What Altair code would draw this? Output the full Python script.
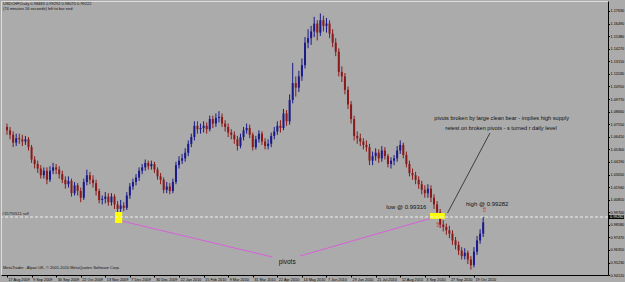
import altair as alt
import pandas as pd

# ---------------- data ----------------
x_labels = ["17 Aug 2009", "9 Sep 2009", "30 Sep 2009", "22 Oct 2009", "13 Nov 2009",
            "7 Dec 2009", "30 Dec 2009", "22 Jan 2010", "15 Feb 2010", "9 Mar 2010",
            "31 Mar 2010", "22 Apr 2010", "14 May 2010", "7 Jun 2010", "29 Jun 2010",
            "21 Jul 2010", "12 Aug 2010", "3 Sep 2010", "27 Sep 2010", "19 Oct 2010"]

y_ticks = [0.94120, 0.95230, 0.96350, 0.97470, 0.98580, 0.99700, 1.00810, 1.01940,
           1.03050, 1.04190, 1.05300, 1.06410, 1.07550, 1.08660, 1.09770, 1.10910,
           1.12030, 1.13150, 1.14270, 1.15380, 1.16490, 1.17630]

opens = [1.073,1.070,1.066,1.059,1.063,1.062,1.060,1.062,1.055,1.044,
         1.040,1.036,1.030,1.034,1.026,1.034,1.037,1.035,1.031,1.026,
         1.022,1.025,1.014,1.021,1.016,1.010,1.024,1.030,1.026,1.023,
         1.016,1.008,1.009,1.011,1.006,1.011,1.004,1.000,1.003,1.001,
         1.012,1.020,1.024,1.028,1.034,1.037,1.041,1.038,1.040,1.035,
         1.029,1.026,1.017,1.020,1.016,1.024,1.039,1.043,1.045,1.050,
         1.058,1.064,1.074,1.071,1.072,1.074,1.071,1.080,1.076,1.081,
         1.082,1.076,1.073,1.068,1.066,1.062,1.056,1.064,1.070,1.072,
         1.066,1.055,1.062,1.067,1.060,1.056,1.058,1.065,1.069,1.074,
         1.072,1.085,1.078,1.097,1.112,1.108,1.118,1.128,1.148,1.152,
         1.158,1.165,1.157,1.168,1.163,1.165,1.156,1.148,1.140,1.122,
         1.118,1.106,1.093,1.080,1.065,1.063,1.060,1.057,1.055,1.043,
         1.047,1.050,1.045,1.052,1.047,1.040,1.043,1.045,1.052,1.057,
         1.048,1.040,1.032,1.030,1.026,1.022,1.017,1.014,1.018,1.010,
         1.004,0.997,0.986,0.984,0.981,0.978,0.972,0.968,0.963,0.958,
         0.961,0.955,0.950,0.962,0.972,0.978]

closes = [1.070,1.066,1.059,1.063,1.062,1.060,1.062,1.055,1.044,1.040,
          1.036,1.030,1.034,1.026,1.034,1.037,1.035,1.031,1.026,1.022,
          1.025,1.014,1.021,1.016,1.010,1.024,1.030,1.026,1.023,1.016,
          1.008,1.009,1.011,1.006,1.011,1.004,1.000,1.003,1.001,1.012,
          1.020,1.024,1.028,1.034,1.037,1.041,1.038,1.040,1.035,1.029,
          1.026,1.017,1.020,1.016,1.024,1.039,1.043,1.045,1.050,1.058,
          1.064,1.074,1.071,1.072,1.074,1.071,1.080,1.076,1.081,1.082,
          1.076,1.073,1.068,1.066,1.062,1.056,1.064,1.070,1.072,1.066,
          1.055,1.062,1.067,1.060,1.056,1.058,1.065,1.069,1.074,1.072,
          1.085,1.078,1.097,1.112,1.108,1.118,1.128,1.148,1.152,1.158,
          1.165,1.157,1.168,1.163,1.165,1.156,1.148,1.140,1.122,1.118,
          1.106,1.093,1.080,1.065,1.063,1.060,1.057,1.055,1.043,1.047,
          1.050,1.045,1.052,1.047,1.040,1.043,1.045,1.052,1.057,1.048,
          1.040,1.032,1.030,1.026,1.022,1.017,1.014,1.018,1.010,1.004,
          0.997,0.986,0.984,0.981,0.978,0.972,0.968,0.963,0.958,0.961,
          0.955,0.950,0.962,0.972,0.978,0.988]

highs = [1.076,1.073,1.069,1.067,1.067,1.066,1.065,1.064,1.057,1.047,
         1.043,1.039,1.037,1.037,1.038,1.041,1.040,1.038,1.034,1.029,
         1.029,1.027,1.024,1.023,1.019,1.027,1.035,1.033,1.030,1.026,
         1.018,1.012,1.015,1.014,1.014,1.013,1.007,1.008,1.006,1.015,
         1.023,1.027,1.031,1.037,1.040,1.044,1.043,1.043,1.042,1.037,
         1.032,1.028,1.024,1.023,1.027,1.042,1.047,1.049,1.054,1.061,
         1.067,1.078,1.078,1.076,1.078,1.077,1.083,1.083,1.085,1.087,
         1.085,1.079,1.076,1.071,1.069,1.065,1.067,1.073,1.076,1.075,
         1.068,1.065,1.070,1.069,1.063,1.062,1.068,1.073,1.078,1.079,
         1.089,1.088,1.102,1.130,1.118,1.123,1.134,1.153,1.160,1.163,
         1.171,1.168,1.174,1.172,1.170,1.168,1.160,1.152,1.143,1.127,
         1.121,1.109,1.096,1.083,1.069,1.067,1.063,1.061,1.058,1.051,
         1.054,1.053,1.056,1.055,1.049,1.046,1.048,1.056,1.061,1.059,
         1.051,1.043,1.036,1.033,1.029,1.025,1.021,1.022,1.021,1.013,
         1.007,1.000,0.990,0.987,0.985,0.981,0.975,0.971,0.966,0.965,
         0.963,0.958,0.966,0.976,0.982,0.9928]

lows = [1.066,1.062,1.055,1.056,1.058,1.056,1.057,1.052,1.041,1.036,
        1.032,1.027,1.027,1.022,1.024,1.031,1.031,1.027,1.023,1.018,
        1.019,1.011,1.012,1.012,1.006,1.008,1.021,1.022,1.019,1.012,
        1.005,1.004,1.005,1.003,1.003,1.000,0.992,0.995,0.998,0.999,
        1.009,1.017,1.021,1.025,1.031,1.034,1.035,1.035,1.032,1.026,
        1.022,1.014,1.014,1.013,1.014,1.022,1.036,1.040,1.042,1.047,
        1.055,1.061,1.067,1.067,1.068,1.067,1.069,1.072,1.073,1.077,
        1.073,1.069,1.064,1.062,1.058,1.052,1.054,1.061,1.067,1.063,
        1.052,1.053,1.059,1.057,1.053,1.053,1.055,1.062,1.066,1.068,
        1.070,1.074,1.075,1.094,1.100,1.104,1.114,1.125,1.143,1.146,
        1.153,1.150,1.154,1.158,1.157,1.152,1.144,1.136,1.118,1.113,
        1.102,1.089,1.076,1.061,1.058,1.056,1.053,1.051,1.039,1.039,
        1.043,1.041,1.042,1.044,1.037,1.036,1.039,1.042,1.049,1.045,
        1.037,1.029,1.026,1.022,1.018,1.013,1.010,1.010,1.006,1.000,
        0.9932,0.983,0.980,0.977,0.974,0.968,0.964,0.959,0.955,0.955,
        0.951,0.946,0.948,0.959,0.969,0.975]

order_price = 0.99282

# annotation anchors (candle index, price)
pivot_boxes = pd.DataFrame({"x": [35.2, 137.7], "x2": [37.5, 142.5],
                            "y": [0.9875, 0.9912], "y2": [0.9973, 0.9964]})
pivot_lines = pd.DataFrame({"x": [37.3, 95.4], "x2": [86.4, 138.3],
                            "y": [0.9893, 0.9581], "y2": [0.9572, 0.9919]})
pointer = pd.DataFrame({"x": [157.2], "x2": [143.4], "y": [1.0676], "y2": [0.9964]})
arrows = pd.DataFrame({"x": [140.3, 155.4], "y": [0.9860, 0.9994]})
notes = pd.DataFrame({
    "x": [161.0, 160.8, 130.0, 156.3, 91.2],
    "y": [1.0809, 1.0720, 1.0017, 1.0044, 0.9528],
    "t": ["pivots broken by large clean bear - implies high supply",
          "retest on broken pivots - s turned r daily level",
          "low @ 0.99316", "high @ 0.99282", "pivots"],
    "s": [5.6, 5.6, 6.0, 6.0, 6.5]})

header_lines = ["USDCHF,Daily  0.98483 0.99292 0.98070 0.99222",
                "(74 minutes 16 seconds) left to bar end"]
footer_line = "MetaTrader - Alpari UK, \u00a9 2001-2010 MetaQuotes Software Corp."

# ---------------- chart ----------------
n = len(closes)
df = pd.DataFrame({"i": list(range(n)), "open": opens, "high": highs,
                   "low": lows, "close": closes})
df["dir"] = ["up" if c >= o else "down" for o, c in zip(opens, closes)]

BG = "#ababab"
FONT = "Liberation Sans"
W, H = 607, 274
xs = alt.Scale(domain=[-0.32, 194.0], nice=False, zero=False)
ys = alt.Scale(domain=[0.9412, 1.1851], nice=False, zero=False)
col = alt.Color("dir:N", scale=alt.Scale(domain=["up", "down"],
                                         range=["#1a1a8a", "#8a1a1a"]), legend=None)

label_expr = "[" + ",".join("'%s'" % s for s in x_labels) + "][round(datum.value/8)]"

x_axis = alt.Axis(values=[8 * k for k in range(len(x_labels))], labelExpr=label_expr,
                  labelAlign="left", labelAngle=0, labelFontSize=3.8, labelPadding=0.5,
                  labelOffset=1, labelFlush=False, labelOverlap=False, tickSize=2,
                  tickColor="black", domainColor="black", labelColor="black",
                  labelFont=FONT, grid=False, title=None)
y_axis = alt.Axis(orient="right", values=y_ticks, format=".5f", labelFontSize=3.8,
                  labelPadding=0.5, tickSize=1.5, tickColor="black", domainColor="black",
                  labelColor="black", labelFont=FONT, labelOverlap=False,
                  labelFlush=False, grid=False, title=None)


def X(f):
    return alt.X(f, type="quantitative", scale=xs, axis=x_axis)


def Y(f):
    return alt.Y(f, type="quantitative", scale=ys, axis=y_axis)


base = alt.Chart(df)
wicks = base.mark_rule(strokeWidth=1).encode(x=X("i"), y=Y("low"), y2="high", color=col)
bodies = base.mark_bar(size=2).encode(x=X("i"), y=Y("open"), y2="close", color=col)

hline = alt.Chart(pd.DataFrame({"p": [order_price]})).mark_rule(
    color="#eeeeee", strokeDash=[3, 2], strokeWidth=1).encode(y=Y("p"))
hlabel = alt.Chart(pd.DataFrame({"p": [order_price], "t": ["#35792611 sell"]})).mark_text(
    align="left", baseline="bottom", fontSize=4, font=FONT, color="#222222", dy=-1).encode(
    x=alt.value(1), y=Y("p"), text="t:N")

price_box = alt.Chart(pd.DataFrame({"p": [order_price + 0.0018],
                                    "p2": [order_price - 0.0018]})).mark_rect(
    color="black").encode(x=alt.value(W + 1), x2=alt.value(W + 16), y=Y("p"), y2="p2")
price_txt = alt.Chart(pd.DataFrame({"p": [order_price], "t": ["0.99282"]})).mark_text(
    align="left", baseline="middle", fontSize=3.8, font=FONT, color="white").encode(
    x=alt.value(W + 2), y=Y("p"), text="t:N")

boxes = alt.Chart(pivot_boxes).mark_rect(color="#ffff00").encode(
    x=X("x"), x2="x2", y=Y("y"), y2="y2")
plines = alt.Chart(pivot_lines).mark_rule(color="#d860d8", strokeWidth=1).encode(
    x=X("x"), x2="x2", y=Y("y"), y2="y2")
pline = alt.Chart(pointer).mark_rule(color="#222222", strokeWidth=0.8).encode(
    x=X("x"), x2="x2", y=Y("y"), y2="y2")
arrow_marks = alt.Chart(arrows).mark_text(text="\u21e7", fontSize=7, font="DejaVu Sans",
                                          color="#cc2020").encode(x=X("x"), y=Y("y"))
note_marks = alt.Chart(notes).mark_text(font=FONT, color="#111111", align="center",
                                        baseline="middle").encode(
    x=X("x"), y=Y("y"), text="t:N", size=alt.Size("s:Q", scale=None, legend=None))

hdr1 = alt.Chart(pd.DataFrame({"t": [header_lines[0]]})).mark_text(
    align="left", baseline="middle", fontSize=4, font=FONT, color="#111111").encode(
    x=alt.value(2), y=alt.value(3), text="t:N")
hdr2 = alt.Chart(pd.DataFrame({"t": [header_lines[1]]})).mark_text(
    align="left", baseline="middle", fontSize=4, font=FONT, color="#111111").encode(
    x=alt.value(2), y=alt.value(8), text="t:N")
ftr = alt.Chart(pd.DataFrame({"t": [footer_line]})).mark_text(
    align="left", baseline="middle", fontSize=4, font=FONT, color="#111111").encode(
    x=alt.value(2), y=alt.value(267), text="t:N")

chart = alt.layer(wicks, bodies, plines, boxes, hline, pline, arrow_marks, note_marks,
                  hlabel, price_box, price_txt, hdr1, hdr2, ftr).properties(
    width=W, height=H, autosize="none",
    padding={"left": 1, "top": 1, "right": 625 - 1 - W, "bottom": 282 - 1 - H},
    background=BG
).configure_view(stroke="#555555", strokeWidth=1, fill=BG).configure(font=FONT)

chart.save("out.html", embed_options={"renderer": "svg", "actions": False})
